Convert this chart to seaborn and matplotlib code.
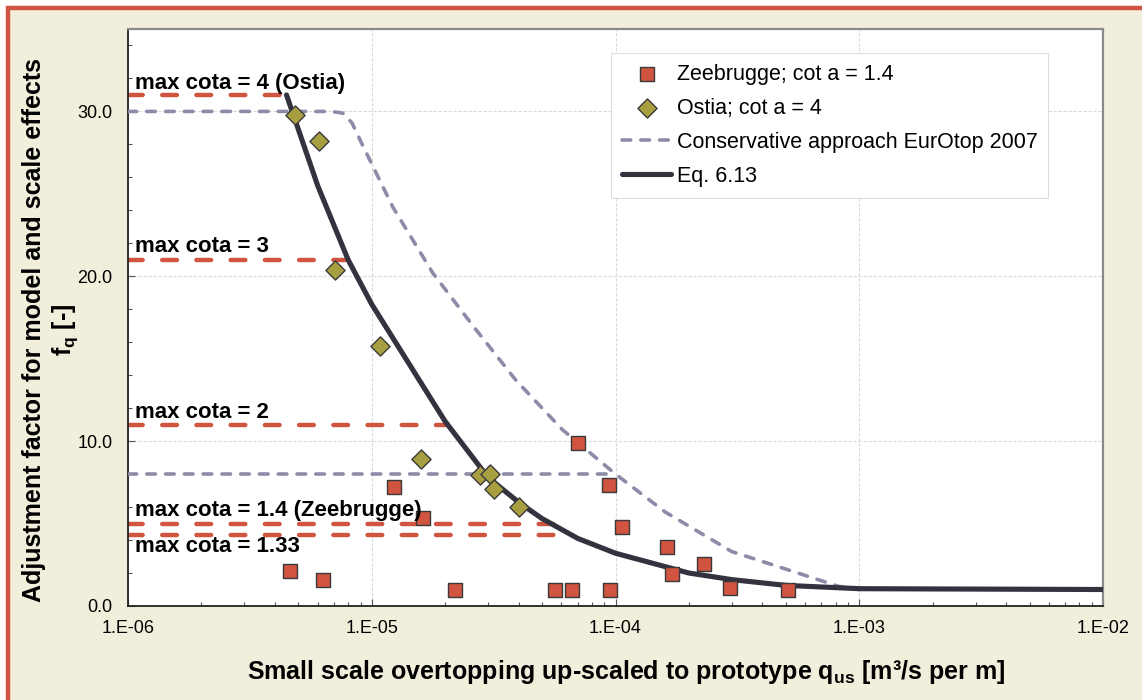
import numpy as np
import pandas as pd
import matplotlib
matplotlib.use("Agg")
import matplotlib.pyplot as plt
import matplotlib.ticker as mticker
from matplotlib.patches import Rectangle
import seaborn as sns

# data
zee_q = [4.6e-6, 6.3e-6, 1.23e-5, 1.62e-5, 2.19e-5, 5.65e-5, 6.6e-5, 7.03e-5,
         9.43e-5, 9.5e-5, 1.065e-4, 1.62e-4, 1.70e-4, 2.30e-4, 2.95e-4, 5.09e-4]
zee_f = [2.14, 1.58, 7.19, 5.35, 1.0, 1.0, 1.0, 9.9,
         7.33, 1.0, 4.77, 3.58, 1.92, 2.53, 1.07, 1.0]

ostia_q = [4.83e-6, 6.05e-6, 7.05e-6, 1.076e-5, 1.59e-5, 2.79e-5, 3.05e-5, 3.17e-5, 4.03e-5]
ostia_f = [29.8, 28.2, 20.4, 15.8, 8.9, 7.94, 7.98, 7.07, 6.02]

eq_q = [4.47e-6, 6e-6, 8e-6, 1e-5, 2e-5, 3e-5, 4e-5, 5e-5, 7e-5, 1e-4,
        2e-4, 3e-4, 5e-4, 1e-3, 1e-2]
eq_f = [31.0, 25.5, 21.0, 18.3, 11.2, 7.8, 6.3, 5.3, 4.1, 3.2,
        2.0, 1.6, 1.25, 1.05, 1.0]

cons_q = [1e-6, 6.8e-6, 7.6e-6, 8.3e-6, 9e-6, 1.22e-5, 1.78e-5, 2.6e-5, 3.9e-5,
          6.05e-5, 1e-4, 1.6e-4, 3e-4, 5.6e-4, 8.2e-4, 1e-3]
cons_f = [30.0, 30.0, 29.9, 29.3, 28.2, 24.2, 20.2, 17.0, 13.7,
          10.7, 8.0, 5.7, 3.3, 2.0, 1.2, 1.0]

cons_low_q = [1e-6, 1e-4]
cons_low_f = [8.0, 8.0]

cota_labels = ["max cota = 4 (Ostia)", "max cota = 3", "max cota = 2",
               "max cota = 1.4 (Zeebrugge)", "max cota = 1.33"]
cota_f = [31.0, 21.0, 11.0, 5.0, 4.33]
cota_end_q = [4.5e-6, 7.8e-6, 2.0e-5, 5.9e-5, 6.5e-5]
cota_text_f = [31.35, 21.5, 11.4, 5.48, 3.26]

xtick_vals = [1e-6, 1e-5, 1e-4, 1e-3, 1e-2]
xtick_labels = ["1.E-06", "1.E-05", "1.E-04", "1.E-03", "1.E-02"]
ytick_vals = [0, 10, 20, 30]
ytick_labels = ["0.0", "10.0", "20.0", "30.0"]

red = "#D0543F"
olive = "#A8A040"
dark = "#35323F"
grey = "#8C8CA8"
cream = "#F1EFDC"

sns.set_theme(style="white")
plt.rcParams["font.family"] = ["Liberation Sans", "DejaVu Sans"]
plt.rcParams["text.color"] = "black"
plt.rcParams["mathtext.fontset"] = "custom"
plt.rcParams["mathtext.bf"] = "Liberation Sans:bold"
plt.rcParams["mathtext.rm"] = "Liberation Sans:bold"
plt.rcParams["mathtext.default"] = "bf"

fig = plt.figure(figsize=(11.42, 7.0), dpi=100)
fig.patch.set_facecolor("white")
fig.patches.append(Rectangle((8 / 1142, -0.05), 1.1, 1 - 8 / 700 + 0.05,
                             transform=fig.transFigure, facecolor=cream,
                             edgecolor=red, linewidth=3.2, zorder=-5))

ax = fig.add_axes([128 / 1142, 1 - 606 / 700, (1103 - 128) / 1142, (606 - 29) / 700])
ax.set_zorder(1)
ax.set_facecolor("white")
ax.set_xscale("log")
ax.set_xlim(1e-6, 1e-2)
ax.set_ylim(0, 35)

ax.grid(True, which="major", color="#DADADA", linewidth=0.8, linestyle=(0, (3, 1.5)))
ax.set_axisbelow(True)

# max cota lines
for f, q_end, lab, ft in zip(cota_f, cota_end_q, cota_labels, cota_text_f):
    line_df = pd.DataFrame({"q": [1e-6, q_end], "f": [f, f]})
    sns.lineplot(data=line_df, x="q", y="f", ax=ax, color=red, linewidth=3.2,
                 linestyle=(0, (3.3, 4.4)), dash_capstyle="round",
                 estimator=None, sort=False, zorder=2)
    ax.text(1.07e-6, ft, lab, fontsize=16, fontweight="bold", color="black",
            va="baseline", ha="left", zorder=6)

# conservative approach
dash_kw = dict(color=grey, linewidth=2.6, linestyle=(0, (2.4, 2.8)),
               dash_capstyle="round", estimator=None, sort=False, zorder=3)
cons_df = pd.DataFrame({"q": cons_q, "f": cons_f})
sns.lineplot(data=cons_df, x="q", y="f", ax=ax,
             label="Conservative approach EurOtop 2007", **dash_kw)
low_df = pd.DataFrame({"q": cons_low_q, "f": cons_low_f})
sns.lineplot(data=low_df, x="q", y="f", ax=ax, **dash_kw)

# Eq. 6.13
eq_df = pd.DataFrame({"q": eq_q, "f": eq_f})
sns.lineplot(data=eq_df, x="q", y="f", ax=ax, color=dark, linewidth=3.7,
             estimator=None, sort=False, zorder=4, label="Eq. 6.13")

# measurements
zee_df = pd.DataFrame({"q": zee_q, "f": zee_f})
ost_df = pd.DataFrame({"q": ostia_q, "f": ostia_f})
sns.scatterplot(data=zee_df, x="q", y="f", ax=ax, marker="s", s=105, color=red,
                edgecolor="#3A3A3A", linewidth=1.0, zorder=5,
                label="Zeebrugge; cot a = 1.4")
sns.scatterplot(data=ost_df, x="q", y="f", ax=ax, marker="D", s=95, color=olive,
                edgecolor="#3A3A3A", linewidth=1.0, zorder=5,
                label="Ostia; cot a = 4")

# axes styling
ax.xaxis.set_major_locator(mticker.FixedLocator(xtick_vals))
ax.xaxis.set_major_formatter(mticker.FixedFormatter(xtick_labels))
ax.xaxis.set_minor_locator(mticker.LogLocator(base=10, subs=np.arange(2, 10)))
ax.xaxis.set_minor_formatter(mticker.NullFormatter())
ax.yaxis.set_major_locator(mticker.FixedLocator(ytick_vals))
ax.yaxis.set_major_formatter(mticker.FixedFormatter(ytick_labels))
ax.yaxis.set_minor_locator(mticker.MultipleLocator(2))
ax.tick_params(axis="both", which="both", direction="in", color="#555555",
               bottom=True, left=True)
ax.tick_params(axis="both", which="major", length=5, width=0.8, labelsize=13,
               labelcolor="black")
ax.tick_params(axis="both", which="minor", length=3, width=0.8)
ax.tick_params(axis="x", which="major", pad=10)
ax.tick_params(axis="y", which="major", pad=11)
ax.set_xlabel("")
ax.set_ylabel("")

for side in ["left", "bottom"]:
    ax.spines[side].set_color("#222222")
    ax.spines[side].set_linewidth(1.3)
for side in ["top", "right"]:
    ax.spines[side].set_color("#8A8A8A")
    ax.spines[side].set_linewidth(1.6)

handles, labels = ax.get_legend_handles_labels()
order = ["Zeebrugge; cot a = 1.4", "Ostia; cot a = 4",
         "Conservative approach EurOtop 2007", "Eq. 6.13"]
hmap = dict(zip(labels, handles))
leg = ax.legend([hmap[k] for k in order], order, loc="upper right",
                bbox_to_anchor=(0.944, 0.958), borderaxespad=0, frameon=True,
                fancybox=False, framealpha=1, edgecolor="#DDDDDD", fontsize=15.5,
                handlelength=2.3, handletextpad=0.25, labelspacing=0.6,
                borderpad=0.5)
leg.get_frame().set_linewidth(0.8)
for t in leg.get_texts():
    t.set_color("black")

fig.text(51 / 1142, 1 - 330 / 700,
         "Adjustment factor for model and scale effects\nf$_q$ [-]",
         rotation=90, ha="center", va="center", multialignment="center",
         fontsize=18, fontweight="bold", linespacing=1.25, color="black")
fig.text(626 / 1142, 1 - 672 / 700,
         "Small scale overtopping up-scaled to prototype q$_{us}$ [m³/s per m]",
         ha="center", va="center", fontsize=18, fontweight="bold", color="black")

fig.savefig("out.png", dpi=100, facecolor=fig.get_facecolor())
